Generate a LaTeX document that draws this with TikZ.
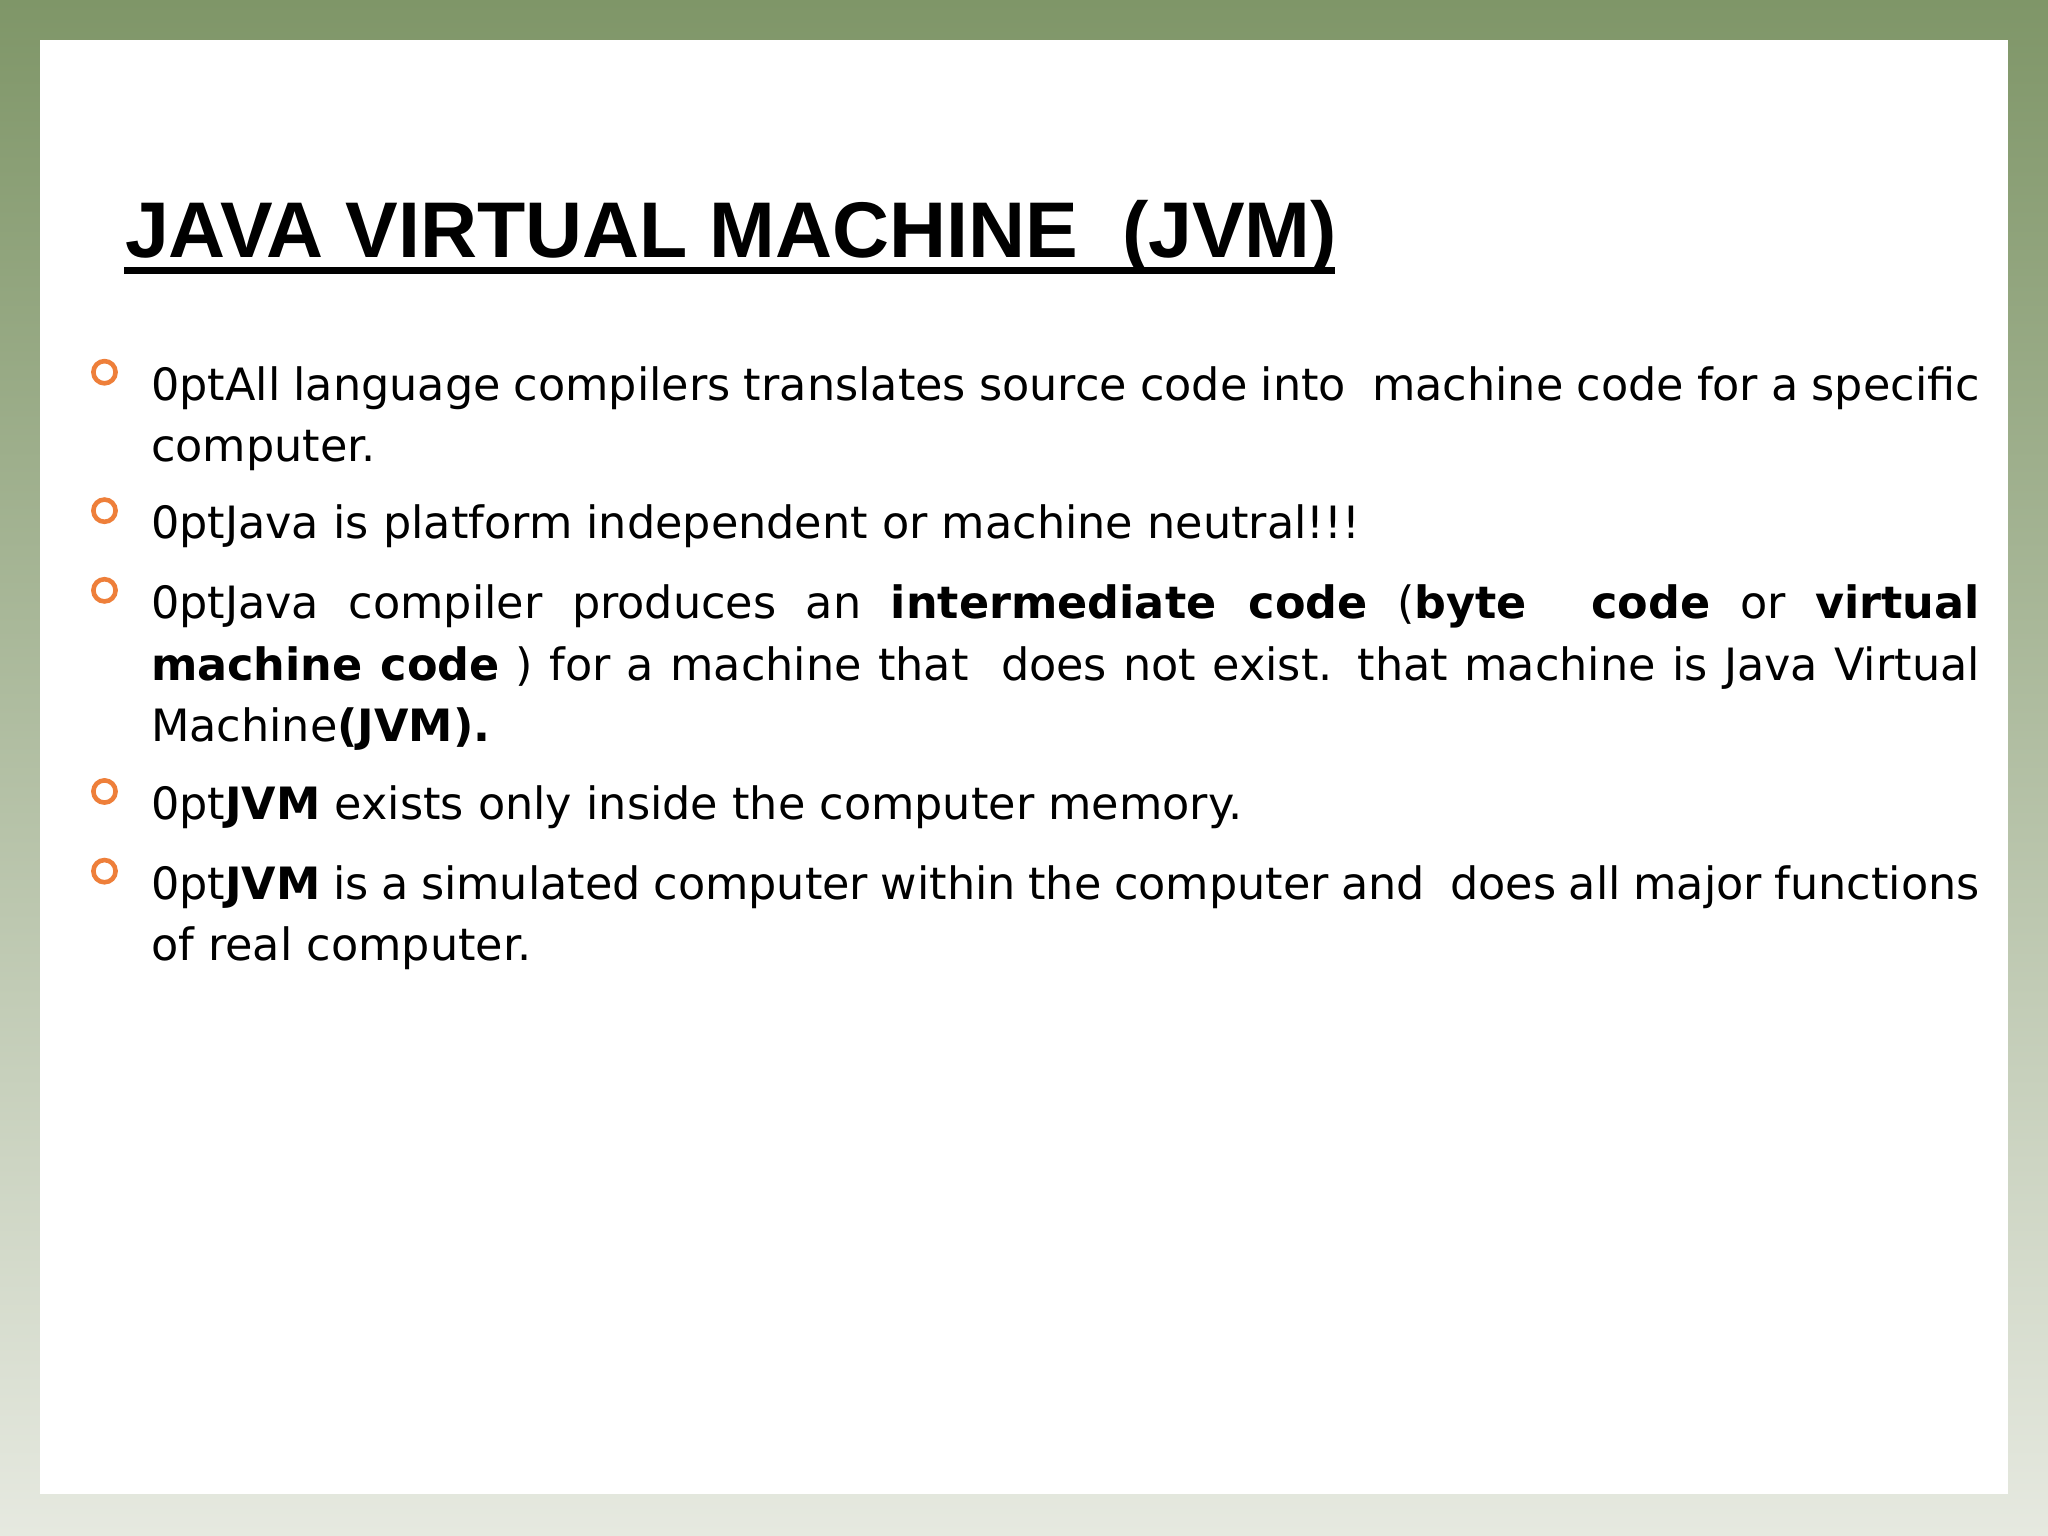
\documentclass[tikz,border=0pt]{standalone}
\usepackage{fontspec}
\setmainfont{DejaVu Sans}
\newfontfamily\titlefont{Liberation Sans}
\definecolor{topg}{HTML}{7F9668}
\definecolor{botg}{HTML}{E6E9E0}
\definecolor{bul}{HTML}{EE7F3A}
\begin{document}
\begin{tikzpicture}[x=1cm,y=1cm,
  para/.style={anchor=north west,inner sep=0pt,text width=14.0cm,align=justify,font=\fontsize{9.7pt}{13.4pt}\selectfont\hyphenpenalty=10000\exhyphenpenalty=10000\emergencystretch=3em},
  ring/.style={circle,draw=bul,line width=1pt,minimum size=0.17cm,inner sep=0pt}]
\useasboundingbox (0,0) rectangle (15.68,11.76);
\shade[top color=topg,bottom color=botg] (0,0) rectangle (15.68,11.76);
\fill[white] (0.31,0.32) rectangle (15.37,11.45);
\node[anchor=base west,inner sep=0pt,font=\titlefont\bfseries\fontsize{17.2pt}{20pt}\selectfont] (title) at (0.95,9.79) {JAVA VIRTUAL MACHINE\ \ (JVM)};
\draw[line width=1.5pt] (title.base west)++(0,-0.1) -- ++(9.27,0);
\node[para] (p1) at (1.15,8.96) {All language compilers translates source code into \ machine code for a specific\linebreak computer.};
\node[para] (p2) at (1.15,7.90) {Java is platform independent or machine neutral!!!};
\node[para] (p3) at (1.15,7.29) {Java compiler produces an \textbf{intermediate code} (\textbf{byte \ code} or \textbf{virtual}\linebreak \textbf{machine code} ) for a machine that \ does not exist. that machine is Java Virtual\linebreak Machine\textbf{(JVM).}};
\node[para] (p4) at (1.15,5.75) {\textbf{JVM} exists only inside the computer memory.};
\node[para] (p5) at (1.15,5.14) {\textbf{JVM} is a simulated computer within the computer and \ does all major functions\linebreak of real computer.};
\node[ring] (b1) at (0.80,8.91) {};
\node[ring] (b2) at (0.80,7.85) {};
\node[ring] (b3) at (0.80,7.24) {};
\node[ring] (b4) at (0.80,5.70) {};
\node[ring] (b5) at (0.80,5.09) {};
\end{tikzpicture}
\end{document}
